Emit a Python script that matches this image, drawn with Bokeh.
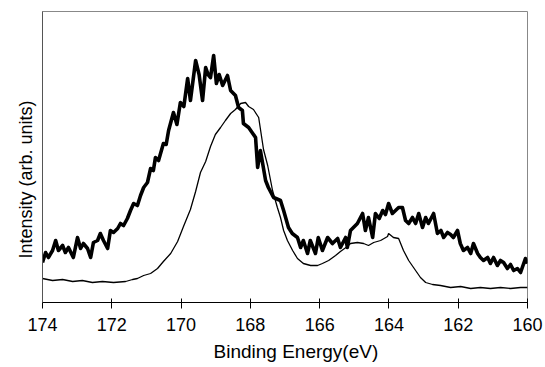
from bokeh.plotting import figure
from bokeh.models import Range1d, FixedTicker, Title
from bokeh.embed import file_html
from bokeh.resources import INLINE

# Thick (noisy) spectrum: binding energy (eV) and intensity (arb. units)
thick_be = [174.00, 173.91, 173.83, 173.71, 173.62, 173.54, 173.42, 173.34, 173.25, 173.11,
            172.99, 172.90, 172.82, 172.70, 172.61, 172.53, 172.41, 172.33, 172.24, 172.12,
            172.04, 171.95, 171.83, 171.75, 171.66, 171.55, 171.46, 171.37, 171.26, 171.17,
            171.08, 170.97, 170.88, 170.80, 170.74, 170.65, 170.51, 170.43, 170.36, 170.22,
            170.12, 170.02, 169.92, 169.81, 169.73, 169.58, 169.48, 169.38, 169.29, 169.22,
            169.15, 169.06, 168.98, 168.90, 168.80, 168.66, 168.57, 168.43, 168.34, 168.23,
            168.20, 168.05, 167.95, 167.85, 167.79, 167.71, 167.56, 167.48, 167.33, 167.13,
            167.04, 166.90, 166.79, 166.64, 166.55, 166.47, 166.35, 166.27, 166.12, 166.04,
            165.92, 165.77, 165.63, 165.48, 165.40, 165.25, 165.20, 165.11, 164.91, 164.76,
            164.68, 164.59, 164.47, 164.39, 164.28, 164.18, 164.10, 164.01, 163.90, 163.81,
            163.72, 163.61, 163.52, 163.43, 163.32, 163.23, 163.14, 163.03, 162.94, 162.86,
            162.71, 162.60, 162.50, 162.42, 162.31, 162.22, 162.14, 162.02, 161.94, 161.85,
            161.73, 161.64, 161.56, 161.44, 161.36, 161.27, 161.15, 161.07, 160.98, 160.87,
            160.78, 160.69, 160.58, 160.49, 160.40, 160.29, 160.20, 160.11, 160.06, 160.00]
thick_int = [40, 50, 45, 52, 62, 52, 57, 50, 55, 45,
             65, 54, 59, 54, 45, 60, 62, 69, 62, 54,
             72, 70, 74, 79, 77, 84, 92, 99, 97, 107,
             115, 120, 134, 132, 145, 142, 159, 158, 172, 190,
             178, 200, 196, 224, 202, 242, 228, 202, 235, 228,
             225, 247, 219, 228, 217, 227, 212, 207, 195, 192,
             179, 175, 170, 165, 135, 152, 122, 115, 105, 102,
             92, 75, 69, 65, 55, 62, 49, 62, 49, 65,
             52, 65, 59, 64, 55, 65, 55, 72, 79, 89,
             72, 85, 65, 89, 84, 92, 88, 99, 89, 92,
             95, 95, 82, 79, 85, 79, 89, 75, 85, 79,
             89, 69, 72, 65, 70, 68, 65, 72, 59, 52,
             55, 49, 59, 49, 45, 42, 45, 39, 45, 37,
             42, 40, 34, 38, 32, 34, 30, 39, 44, 39]

# Thin (smooth) spectrum
thin_be = [174.00, 173.71, 173.42, 173.13, 172.85, 172.56, 172.27, 171.95, 171.60, 171.40,
           171.26, 171.08, 170.88, 170.68, 170.51, 170.30, 170.10, 169.93, 169.73, 169.58,
           169.44, 169.29, 169.15, 169.01, 168.86, 168.72, 168.57, 168.43, 168.28, 168.14,
           168.05, 167.91, 167.76, 167.62, 167.50, 167.36, 167.22, 167.13, 167.04, 166.93,
           166.78, 166.64, 166.47, 166.26, 166.06, 165.92, 165.74, 165.54, 165.40, 165.20,
           165.11, 164.91, 164.73, 164.59, 164.44, 164.24, 164.04, 164.01, 163.87, 163.72,
           163.58, 163.43, 163.29, 163.09, 162.94, 162.74, 162.51, 162.22, 161.93, 161.64,
           161.36, 161.07, 160.78, 160.49, 160.20, 160.00]
thin_int = [24, 22, 23, 21, 22, 20, 21, 20, 21, 23,
            24, 27, 29, 34, 41, 49, 61, 76, 93, 111,
            130, 141, 156, 168, 175, 182, 189, 193, 199, 200,
            196, 193, 185, 153, 137, 112, 95, 85, 72, 62,
            52, 44, 39, 37, 37, 39, 42, 47, 51, 56,
            59, 60, 59, 57, 60, 62, 66, 69, 65, 64,
            52, 42, 35, 25, 20, 18, 17, 15, 16, 14,
            15, 14, 15, 14, 15, 15]

x_ticks = [174, 172, 170, 168, 166, 164, 162, 160]
x_title = "Binding Energy(eV)"
y_title = "Intensity (arb. units)"

FONT = "Liberation Sans"

p = figure(width=545, height=367, output_backend="svg", toolbar_location=None,
           x_range=Range1d(174, 160), y_range=Range1d(0, 291),
           min_border_left=42, min_border_right=18, min_border_top=11, min_border_bottom=65)

p.line(thin_be, thin_int, line_color="black", line_width=1.3)
p.line(thick_be, thick_int, line_color="black", line_width=3.6, line_join="round")

p.xgrid.visible = False
p.ygrid.visible = False
p.outline_line_color = "#888888"
p.outline_line_width = 1
p.background_fill_color = "white"
p.border_fill_color = "white"

xa = p.xaxis[0]
xa.ticker = FixedTicker(ticks=x_ticks)
xa.minor_tick_line_color = None
xa.major_tick_in = 4
xa.major_tick_out = 6
xa.major_tick_line_color = "black"
xa.axis_line_color = "black"
xa.major_label_text_font = FONT
xa.major_label_text_font_size = "18px"
xa.major_label_text_color = "black"
xa.major_label_standoff = 9

ya = p.yaxis[0]
ya.ticker = FixedTicker(ticks=[])
ya.minor_tick_line_color = None
ya.major_tick_line_color = None
ya.axis_line_color = "#555555"

p.add_layout(Title(text=x_title, align="left", offset=171, text_font=FONT,
                   text_font_size="19px", text_font_style="normal", text_color="black",
                   standoff=10), "below")
p.add_layout(Title(text=y_title, align="left", offset=44, text_font=FONT,
                   text_font_size="18px", text_font_style="normal", text_color="black",
                   standoff=13), "left")

open("out.html", "w").write(file_html(p, INLINE))
